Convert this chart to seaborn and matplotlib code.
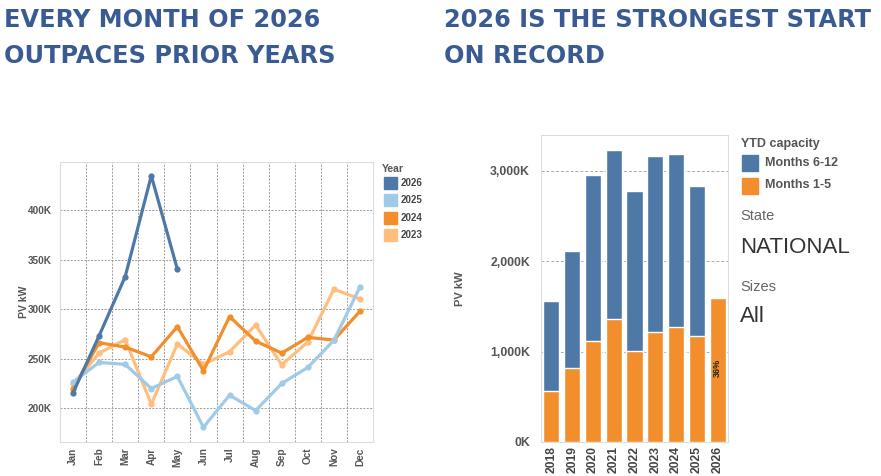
import matplotlib
matplotlib.use("Agg")
import matplotlib.pyplot as plt
import matplotlib.patches as mpatches
import matplotlib.ticker as mticker
import numpy as np
import pandas as pd
import seaborn as sns

sns.set_theme(style="white")
plt.rcParams['font.family'] = ['Liberation Sans', 'DejaVu Sans']

# ---- data ----
months = ["Jan", "Feb", "Mar", "Apr", "May", "Jun", "Jul", "Aug", "Sep", "Oct", "Nov", "Dec"]
pv_2026 = [215.5, 273.3, 333.1, 435.1, 340.5]
pv_2025 = [226.4, 246.3, 244.3, 219.9, 232.1, 180.7, 213.2, 197.6, 225.0, 241.2, 268.6, 322.6]
pv_2024 = [219.9, 266.2, 261.8, 252.0, 282.4, 237.8, 292.6, 267.9, 255.7, 271.6, 268.9, 298.0]
pv_2023 = [224.0, 255.7, 269.3, 204.0, 264.9, 244.3, 257.1, 284.1, 243.9, 266.9, 320.3, 310.5]
years_line = ["2026", "2025", "2024", "2023"]
line_colors = ["#4e79a7", "#a0cbe8", "#f28e2b", "#ffbe7d"]

bar_years = ["2018", "2019", "2020", "2021", "2022", "2023", "2024", "2025", "2026"]
ytd_total = [1560, 2109, 2952, 3228, 2775, 3158, 3180, 2830, 1590]
months_1_5 = [567, 821, 1111, 1362, 1001, 1215, 1273, 1174, 1590]
bar_label_2026 = "36%"

title_left = "EVERY MONTH OF 2026\nOUTPACES PRIOR YEARS"
title_right = "2026 IS THE STRONGEST START\nON RECORD"

# ---- build tables ----
rows = []
for yr, vals in zip(years_line, [pv_2026, pv_2025, pv_2024, pv_2023]):
    for i, v in enumerate(vals):
        rows.append({"Year": yr, "idx": i, "PV": v * 1000})
df_line = pd.DataFrame(rows)
df_bar = pd.DataFrame({"year": bar_years,
                       "total": np.array(ytd_total) * 1000,
                       "m15": np.array(months_1_5) * 1000})
pal = dict(zip(years_line, line_colors))

W, H = 881, 476
fig = plt.figure(figsize=(W / 100, H / 100), dpi=100)
fig.patch.set_facecolor("white")

def ax_rect(l, t, r, b):
    return [l / W, 1 - b / H, (r - l) / W, (b - t) / H]

tick_kw = dict(color="#555555", fontweight="bold", fontsize=7.2)
grid_col = "#9a9a9a"
spine_col = "#dddddd"

# ---- left line chart ----
ax1 = fig.add_axes(ax_rect(60, 162, 373, 442))
sns.lineplot(data=df_line, x="idx", y="PV", hue="Year",
             hue_order=["2023", "2024", "2025", "2026"], palette=pal,
             linewidth=2.3, marker="o", markersize=4.5,
             markeredgewidth=0, legend=False, ax=ax1, sort=False)
ax1.set_xlim(-0.5, 11.5)
ax1.set_ylim(165800, 449000)
ax1.set_xticks(range(12))
ax1.set_xticklabels(months, rotation=90, **tick_kw)
ax1.set_xticks(np.arange(-0.5, 12, 1), minor=True)
ax1.yaxis.set_major_locator(mticker.FixedLocator([200000, 250000, 300000, 350000, 400000]))
ax1.set_yticklabels(["200K", "250K", "300K", "350K", "400K"], **tick_kw)
ax1.tick_params(axis="x", which="major", length=0, pad=4)
ax1.tick_params(axis="x", which="minor", length=4, color="#cccccc", width=0.8)
ax1.tick_params(axis="y", length=4, color="#cccccc", width=0.7, pad=2)
for xb in np.arange(0.5, 11.5, 1):
    ax1.axvline(xb, color=grid_col, lw=0.7, ls=(0, (2, 1.5)), zorder=0)
for yv in [200000, 250000, 300000, 350000, 400000]:
    ax1.axhline(yv, color=grid_col, lw=0.7, ls=(0, (2, 1.5)), zorder=0)
for s in ax1.spines.values():
    s.set_color(spine_col)
    s.set_linewidth(0.8)
ax1.set_xlabel("")
ax1.set_ylabel("PV kW", color="#555555", fontsize=7.5, fontweight="bold", labelpad=-1)

# left legend
fig.text(382 / W, 1 - 169 / H, "Year", color="#555555", fontsize=7.5, fontweight="bold", va="center")
for i, (yr, c) in enumerate(zip(years_line, line_colors)):
    yc = 183 + i * 17.4
    fig.patches.append(mpatches.Rectangle((384 / W, 1 - (yc + 6) / H), 13 / W, 12 / H,
                                          transform=fig.transFigure, color=c, figure=fig))
    fig.text(401 / W, 1 - yc / H, yr, color="#444444", fontsize=7, fontweight="bold", va="center")

# ---- right bar chart ----
ax2 = fig.add_axes(ax_rect(541, 135, 728, 442))
for yv in [1000000, 2000000, 3000000]:
    ax2.axhline(yv, color="#aaaaaa", lw=0.7, ls=(0, (3, 2)), zorder=0)
sns.barplot(data=df_bar, x="year", y="total", color="#4e79a7", saturation=1,
            width=0.78, ax=ax2, zorder=2)
sns.barplot(data=df_bar, x="year", y="m15", color="#f28e2b", saturation=1,
            width=0.78, ax=ax2, zorder=3)
ax2.set_xlim(-0.5, 8.5)
ax2.set_ylim(0, 3393000)
ax2.yaxis.set_major_locator(mticker.FixedLocator([0, 1000000, 2000000, 3000000]))
ax2.set_yticklabels(["0K", "1,000K", "2,000K", "3,000K"], color="#555555",
                    fontweight="bold", fontsize=8.8)
ax2.set_xticks(range(len(bar_years)))
ax2.set_xticklabels(bar_years, rotation=90, color="#444444", fontweight="bold", fontsize=8.7)
ax2.set_xticks(np.arange(-0.5, 9, 1), minor=True)
ax2.tick_params(axis="x", which="major", length=0, pad=3)
ax2.tick_params(axis="x", which="minor", length=4, color="#cccccc", width=0.8)
ax2.tick_params(axis="y", length=5, color="#cccccc", width=0.7, pad=3)
for s in ax2.spines.values():
    s.set_color(spine_col)
    s.set_linewidth(0.8)
ax2.set_xlabel("")
ax2.set_ylabel("PV kW", color="#555555", fontsize=8, fontweight="bold", labelpad=18)
ax2.text(8, 820000, bar_label_2026, rotation=90, ha="center", va="center",
         fontsize=6.5, fontweight="bold", color="#222222", zorder=5)

# right legend
fig.text(741 / W, 1 - 144 / H, "YTD capacity", color="#555555", fontsize=9, fontweight="bold", va="center")
leg2 = [("Months 6-12", "#4e79a7", 162.5), ("Months 1-5", "#f28e2b", 185.5)]
for lab, c, yc in leg2:
    fig.patches.append(mpatches.Rectangle((742 / W, 1 - (yc + 8) / H), 16 / W, 16 / H,
                                          transform=fig.transFigure, color=c, figure=fig))
    fig.text(765 / W, 1 - yc / H, lab, color="#555555", fontsize=9, fontweight="bold", va="center")
fig.text(740 / W, 1 - 216 / H, "State", color="#666666", fontsize=10.5, va="center")
fig.text(740 / W, 1 - 247 / H, "NATIONAL", color="#333333", fontsize=16, va="center")
fig.text(740 / W, 1 - 287 / H, "Sizes", color="#666666", fontsize=10.5, va="center")
fig.text(740 / W, 1 - 317 / H, "All", color="#333333", fontsize=16, va="center")

# ---- titles ----
title_kw = dict(color="#3a5a94", fontsize=17.3, fontweight="bold", va="top",
                family=["DejaVu Sans"], linespacing=1.62)
fig.text(4 / W, 1 - 8 / H, title_left, **title_kw)
fig.text(444 / W, 1 - 8 / H, title_right, **title_kw)

fig.savefig("out.png", dpi=100, facecolor="white")
